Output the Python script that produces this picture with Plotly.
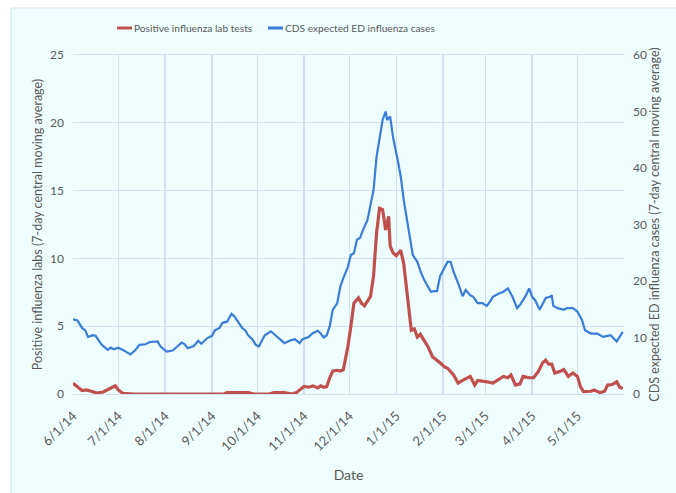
import plotly.graph_objects as go
import datetime as dt

START = dt.date(2014, 6, 1)

# Day offsets from 6/1/14 and values
lab_days = [0, 3, 6, 9, 13, 16, 20, 25, 28, 30, 33, 40, 60, 80, 100, 102, 108, 112, 116, 120,
            130, 133, 140, 145, 148, 150, 153, 156, 159, 162, 164, 166, 168, 170, 172, 175,
            177, 179, 182, 184, 186, 189, 191, 193, 197, 199, 201, 203, 205, 207, 209, 210,
            212, 214, 217, 219, 221, 224, 226, 228, 230, 235, 238, 241, 243, 246, 248, 252,
            255, 258, 263, 266, 268, 274, 278, 285, 288, 290, 293, 296, 298, 302, 305, 308,
            311, 313, 315, 317, 319, 322, 325, 328, 331, 334, 336, 338, 343, 345, 349, 352,
            354, 357, 360, 362, 364]
lab_vals = [0.8, 0.55, 0.25, 0.3, 0.18, 0.07, 0.15, 0.43, 0.6, 0.3, 0.05, 0.0, 0.0, 0.0, 0.0, 0.1,
            0.1, 0.05, 0.1, 0.0, 0.0, 0.1, 0.1, 0.0, 0.1, 0.3, 0.55, 0.5, 0.6, 0.45, 0.6, 0.5,
            0.55, 1.2, 1.7, 1.75, 1.7, 1.8, 3.5, 5.0, 6.7, 7.1, 6.7, 6.5, 7.2, 8.7, 11.9, 13.7,
            13.6, 12.1, 13.1, 10.9, 10.4, 10.2, 10.6, 9.6, 7.7, 4.7, 4.8, 4.2, 4.4, 3.5, 2.75,
            2.5, 2.3, 2.0, 1.9, 1.4, 0.8, 1.0, 1.3, 0.66, 1.0, 0.9, 0.8, 1.3, 1.2, 1.4, 0.66,
            0.75, 1.3, 1.2, 1.2, 1.65, 2.3, 2.5, 2.2, 2.2, 1.55, 1.65, 1.8, 1.3, 1.55, 1.3,
            0.54, 0.17, 0.2, 0.3, 0.1, 0.2, 0.66, 0.7, 0.9, 0.5, 0.4]

ed_days = [0, 3, 6, 8, 10, 13, 15, 17, 19, 23, 25, 27, 30, 33, 38, 41, 44, 48, 51, 56, 58, 62,
           66, 69, 72, 74, 76, 80, 83, 85, 89, 92, 94, 97, 99, 102, 105, 107, 109, 112, 114,
           116, 119, 121, 123, 125, 127, 131, 134, 137, 140, 144, 147, 150, 152, 156, 159,
           162, 164, 166, 168, 170, 172, 175, 177, 179, 182, 184, 186, 188, 190, 192, 195,
           197, 199, 201, 203, 205, 207, 208, 210, 211, 212, 215, 217, 219, 221, 223, 225,
           228, 230, 232, 235, 237, 239, 241, 243, 245, 248, 250, 252, 255, 258, 260, 263,
           265, 268, 271, 274, 276, 278, 282, 285, 288, 291, 294, 296, 300, 302, 304, 306,
           309, 313, 316, 317, 318, 321, 325, 327, 331, 334, 337, 339, 343, 347, 351, 356,
           360, 364]
ed_vals = [13.2, 13.0, 11.7, 11.3, 10.1, 10.4, 10.3, 9.6, 8.7, 7.8, 8.2, 7.9, 8.2, 7.8, 7.0,
           7.7, 8.7, 8.8, 9.2, 9.3, 8.4, 7.5, 7.7, 8.4, 9.1, 8.8, 8.1, 8.5, 9.4, 8.9, 9.9,
           10.3, 11.3, 11.7, 12.6, 12.8, 14.2, 13.7, 12.8, 11.7, 11.3, 10.4, 9.6, 8.7, 8.4,
           9.3, 10.4, 11.1, 10.4, 9.6, 9.0, 9.5, 9.7, 9.0, 9.7, 10.1, 10.8, 11.2, 10.7, 10.0,
           10.4, 12.0, 14.9, 16.1, 19.0, 20.5, 22.5, 24.6, 24.9, 27.3, 27.6, 29.0, 30.8, 33.5,
           36.1, 42.0, 45.0, 48.5, 50.0, 48.5, 49.1, 46.7, 45.3, 41.4, 38.5, 34.3, 31.4, 27.8,
           24.6, 23.4, 21.8, 20.5, 19.0, 18.1, 18.2, 18.2, 20.8, 21.9, 23.4, 23.4, 21.6, 19.6,
           17.3, 18.4, 17.5, 17.2, 16.1, 16.1, 15.6, 16.3, 17.2, 17.8, 18.1, 18.7, 17.2, 15.2,
           15.8, 17.5, 18.7, 17.2, 16.6, 14.9, 17.0, 17.2, 17.5, 15.6, 15.2, 14.9, 15.2, 15.2,
           14.6, 13.1, 11.3, 10.7, 10.7, 10.1, 10.4, 9.3, 11.0]

month_ticks = ["2014-06-01", "2014-07-01", "2014-08-01", "2014-09-01", "2014-10-01",
               "2014-11-01", "2014-12-01", "2015-01-01", "2015-02-01", "2015-03-01",
               "2015-04-01", "2015-05-01"]
month_labels = ["6/1/14", "7/1/14", "8/1/14", "9/1/14", "10/1/14", "11/1/14", "12/1/14",
                "1/1/15", "2/1/15", "3/1/15", "4/1/15", "5/1/15"]

series_names = ["Positive influenza lab tests", "CDS expected ED influenza cases"]
series_colors = ["#C0504D", "#3A7DD8"]

lab_dates = [START + dt.timedelta(days=d) for d in lab_days]
ed_dates = [START + dt.timedelta(days=d) for d in ed_days]

FONT = "Lato, Open Sans, sans-serif"
TXT = "#595959"
GRID = "#D3DFF3"
BG = "#EEFEFE"

# plot-area pixel geometry (for converting legend placement to paper coords)
L, R, T, B = 73, 624, 55, 394
W, H = R - L, B - T
px = lambda x: (x - L) / W
py = lambda y: (B - y) / H

fig = go.Figure()
fig.add_trace(go.Scatter(x=lab_dates, y=lab_vals, mode="lines", name=series_names[0],
                         line=dict(color=series_colors[0], width=3.2)))
fig.add_trace(go.Scatter(x=ed_dates, y=ed_vals, mode="lines", yaxis="y2", name=series_names[1],
                         line=dict(color=series_colors[1], width=2.2)))

shapes = [dict(type="rect", xref="paper", yref="paper", layer="below",
               x0=px(11), x1=1.3, y0=-0.5, y1=py(8),
               fillcolor=BG, line=dict(color="#D6E6F2", width=1.2))]
annotations = []
legend_x = [117, 268]
for i in range(2):
    shapes.append(dict(type="line", xref="paper", yref="paper",
                       x0=px(legend_x[i]), x1=px(legend_x[i] + 15), y0=py(28), y1=py(28),
                       line=dict(color=series_colors[i], width=3)))
    annotations.append(dict(text=series_names[i], xref="paper", yref="paper",
                            x=px(legend_x[i] + 15), y=py(28), xanchor="left", yanchor="middle",
                            showarrow=False, font=dict(size=10.2, color=TXT, family=FONT)))

fig.update_layout(
    width=676, height=493,
    margin=dict(l=L, r=676 - R, t=T, b=493 - B, autoexpand=False),
    paper_bgcolor="white", plot_bgcolor=BG,
    font=dict(family=FONT, color=TXT, size=12),
    showlegend=False,
    hovermode=False,
    xaxis=dict(type="date", range=["2014-06-01", "2015-05-31 20:00"],
               tickvals=month_ticks, ticktext=month_labels, tickangle=-45,
               tickfont=dict(size=13, color=TXT), ticklabelstandoff=8,
               showgrid=True, gridcolor=GRID, gridwidth=1.3,
               showline=True, linecolor=GRID, linewidth=1.3, mirror=True,
               ticks="", zeroline=False,
               title=dict(text="Date", font=dict(size=14, color=TXT), standoff=17)),
    yaxis=dict(range=[0, 25], dtick=5, showgrid=True, gridcolor=GRID, gridwidth=1.3,
               zeroline=False, ticks="", tickfont=dict(size=12, color=TXT),
               ticklabelstandoff=8,
               title=dict(text="Positive influenza labs (7-day central moving average)",
                          font=dict(size=12.5, color=TXT), standoff=4)),
    yaxis2=dict(range=[0, 60], dtick=10, overlaying="y", side="right", showgrid=False,
                zeroline=False, ticks="", tickfont=dict(size=12, color=TXT),
                ticklabelstandoff=8,
                title=dict(text="CDS expected ED influenza cases (7-day central moving average)",
                           font=dict(size=12.5, color=TXT), standoff=4)),
    shapes=shapes,
    annotations=annotations,
)

fig.write_html("out.html", config={"displayModeBar": False, "staticPlot": True},
               post_script="document.body.style.margin='0';")
